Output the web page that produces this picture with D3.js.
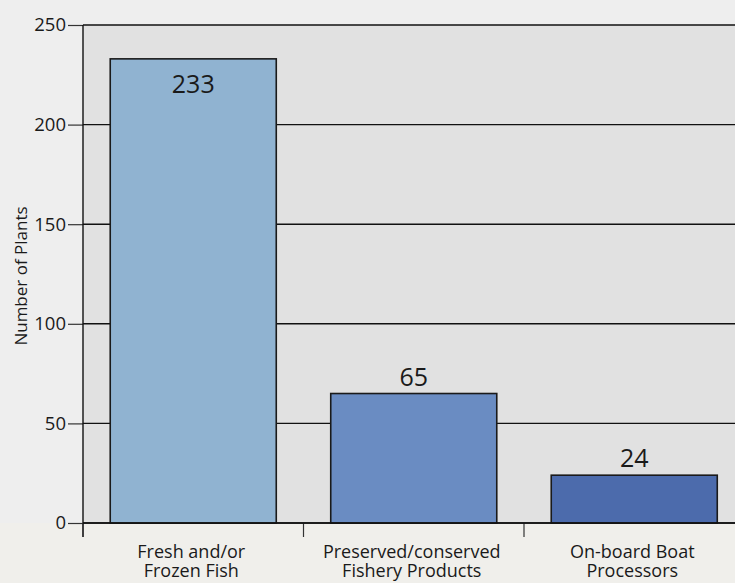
<!DOCTYPE html>
<html>
<head>
<meta charset="utf-8">
<script src="https://cdn.jsdelivr.net/npm/d3@7"></script>
<style>
  html, body { margin: 0; padding: 0; background: #eeeeee; }
  svg { display: block; }
  text { font-family: "Open Sans", "Noto Sans", sans-serif; fill: #1a1a1a; }
</style>
</head>
<body>
<svg id="chart" width="735" height="583"></svg>
<script>
const categories = [["Fresh and/or", "Frozen Fish"], ["Preserved/conserved", "Fishery Products"], ["On-board Boat", "Processors"]];
const values = [233, 65, 24];
const barColors = ["#90b3d1", "#6a8cc2", "#4c6bac"];
const yTicks = [0, 50, 100, 150, 200, 250];
const yLabel = "Number of Plants";

(function () {
const W = 735, H = 583;
const mLeft = 83, mTop = 25, mBottom = 523, rightEdge = 735;
const svg = d3.select("#chart");

svg.append("rect").attr("x", 0).attr("y", 0).attr("width", W).attr("height", H).attr("fill", "#eeeeee");

const ids = categories.map((c, i) => i);
const x = d3.scaleBand().domain(ids).range([mLeft, mLeft + 220.5 * categories.length]).padding(0);
const y = d3.scaleLinear().domain([0, 250]).range([mBottom, mTop]);

// plot background
svg.append("rect").attr("x", mLeft).attr("y", y(250)).attr("width", rightEdge - mLeft).attr("height", y(0) - y(250)).attr("fill", "#e1e1e1");
// label area background
svg.append("rect").attr("x", 0).attr("y", y(0)).attr("width", W).attr("height", H - y(0)).attr("fill", "#f0efeb");

// gridlines
svg.append("g").selectAll("line").data(yTicks).join("line")
  .attr("x1", mLeft).attr("x2", rightEdge)
  .attr("y1", d => y(d)).attr("y2", d => y(d))
  .attr("stroke", "#111").attr("stroke-width", 1.4);

// y axis
const yAxis = d3.axisLeft(y).tickValues(yTicks).tickSize(15).tickPadding(2).tickFormat(d3.format("d"));
const gy = svg.append("g").attr("transform", `translate(${mLeft},0)`).call(yAxis);
gy.select(".domain").remove();
gy.selectAll(".tick line").attr("stroke", "#333").attr("stroke-width", 1.2);
gy.selectAll(".tick text").attr("font-size", 18.5).attr("fill", "#1a1a1a").style("font-family", '"Open Sans", sans-serif');
svg.append("line").attr("x1", mLeft).attr("x2", mLeft).attr("y1", y(250)).attr("y2", y(0) + 14)
  .attr("stroke", "#111").attr("stroke-width", 1.4);

// x axis ticks at band boundaries
const xTicks = ids.map(i => x(i));
svg.append("g").selectAll("line").data(xTicks).join("line")
  .attr("x1", d => d).attr("x2", d => d).attr("y1", y(0)).attr("y2", y(0) + 14)
  .attr("stroke", "#333").attr("stroke-width", 1.2);

// bars
const barW = x.bandwidth() * 0.753;
svg.append("g").selectAll("rect").data(values).join("rect")
  .attr("x", (d, i) => x(i) + (x.bandwidth() - barW) / 2)
  .attr("y", d => y(d))
  .attr("width", barW)
  .attr("height", d => y(0) - y(d))
  .attr("fill", (d, i) => barColors[i])
  .attr("stroke", "#1a1a1a").attr("stroke-width", 1.6);

// x axis line
svg.append("line").attr("x1", mLeft).attr("x2", rightEdge).attr("y1", y(0)).attr("y2", y(0))
  .attr("stroke", "#111").attr("stroke-width", 1.6);

// value labels
svg.append("g").selectAll("text").data(values).join("text")
  .attr("x", (d, i) => x(i) + x.bandwidth() / 2)
  .attr("y", d => d > 150 ? y(d) + 34 : y(d) - 8)
  .attr("text-anchor", "middle")
  .attr("font-size", 25)
  .text(d => d);

// category labels (two separate lines)
const lines = [];
categories.forEach((c, i) => c.forEach((t, j) => lines.push({ i, j, t })));
svg.append("g").selectAll("text").data(lines).join("text")
  .attr("x", d => x(d.i) + x.bandwidth() / 2 - 2)
  .attr("y", d => 558 + d.j * 19)
  .attr("text-anchor", "middle")
  .attr("font-size", 18)
  .text(d => d.t);

// y label
svg.append("text")
  .attr("transform", `translate(27, 276) rotate(-90)`)
  .attr("text-anchor", "middle")
  .attr("font-size", 17)
  .text(yLabel);
})();
</script>
</body>
</html>
